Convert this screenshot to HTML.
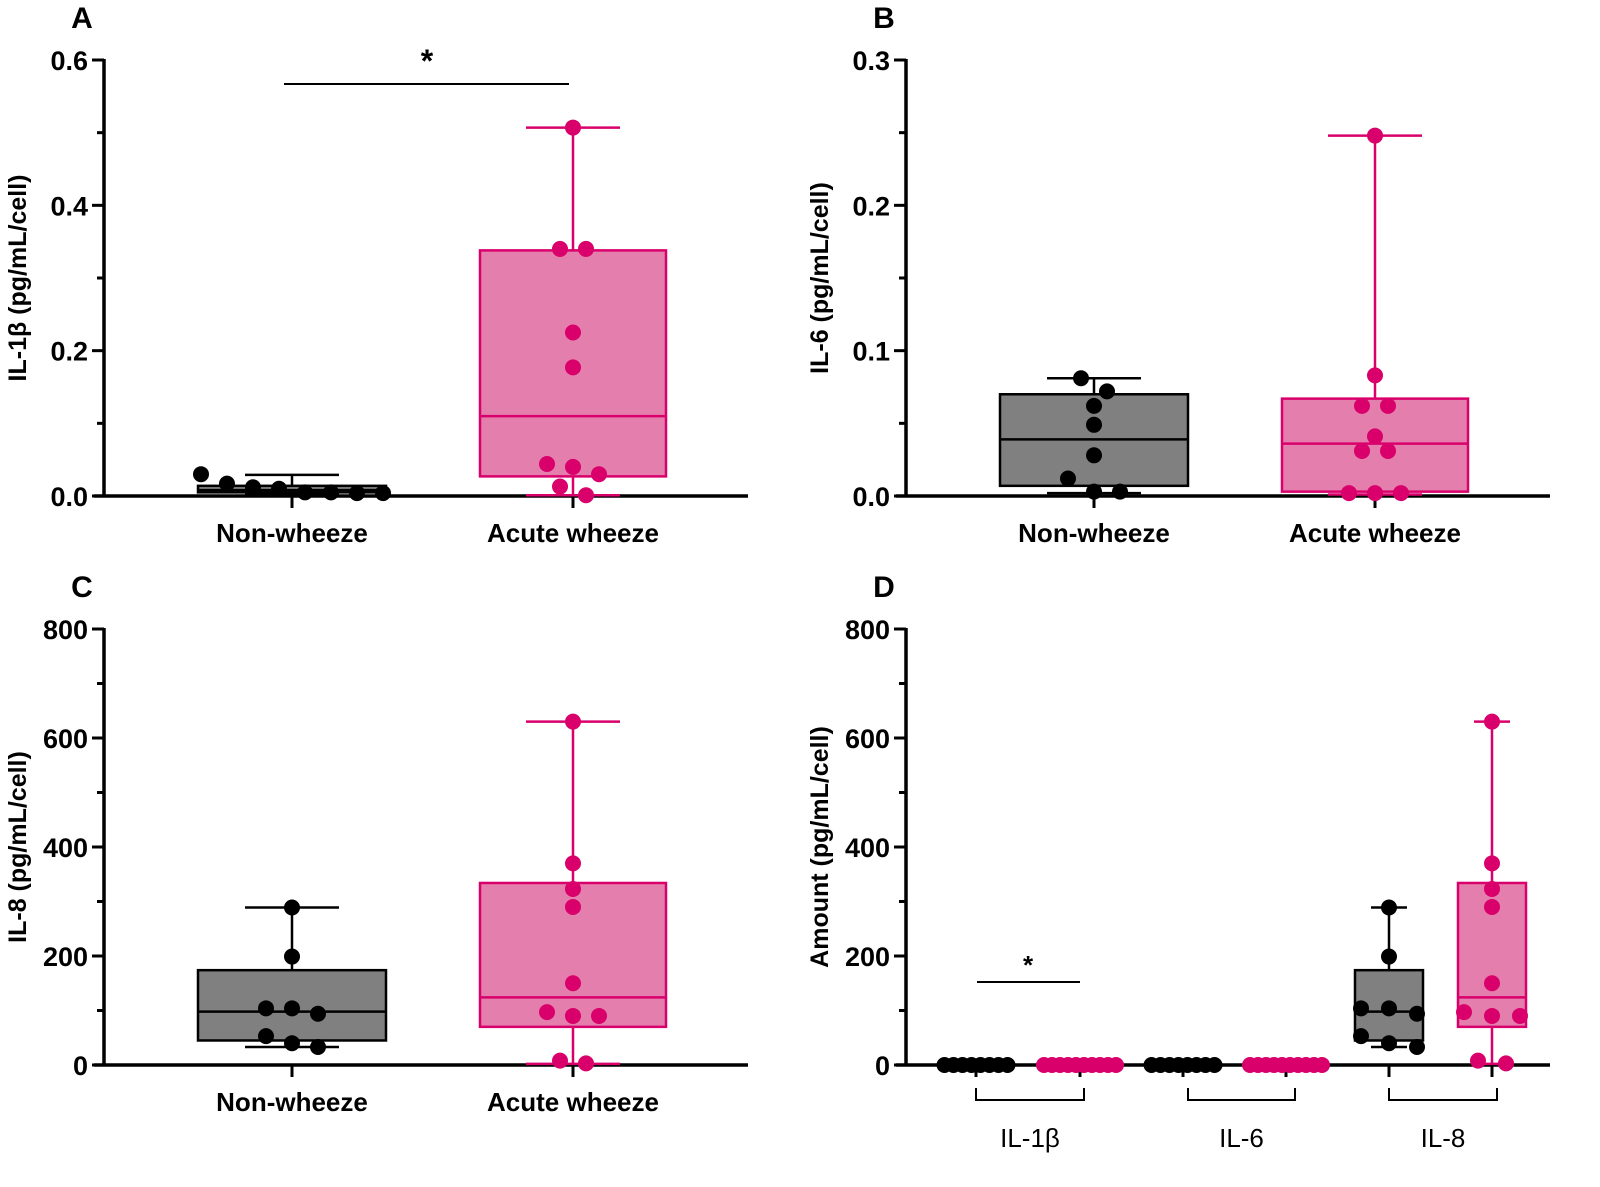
<!DOCTYPE html>
<html><head><meta charset="utf-8"><style>
body{margin:0;background:#fff}
svg text{font-family:"Liberation Sans",sans-serif}
</style></head><body>
<svg id="chart" width="1600" height="1182" viewBox="0 0 1600 1182"></svg>
<script>
// ---- data ----
const categoriesAB = ["Non-wheeze", "Acute wheeze"];
const il1bNon = [0.017, 0.005, 0.004, 0.012, 0.03, 0.005, 0.01, 0.004];
const il1bAcute = [0.507, 0.34, 0.34, 0.225, 0.177, 0.044, 0.04, 0.03, 0.013, 0.001];
const il6Non = [0.081, 0.072, 0.062, 0.049, 0.028, 0.012, 0.003, 0.003];
const il6Acute = [0.248, 0.083, 0.062, 0.062, 0.041, 0.031, 0.031, 0.002, 0.002, 0.002];
const il8Non = [289, 199, 104, 104, 94, 53, 40, 33];
const il8Acute = [630, 370, 323, 290, 150, 97, 90, 90, 8, 3];
const il1bNonBox = [0.003, 0.005, 0.008, 0.014, 0.029];
const il1bAcuteBox = [0.001, 0.027, 0.11, 0.338, 0.507];
const il6NonBox = [0.002, 0.007, 0.039, 0.070, 0.081];
const il6AcuteBox = [0.001, 0.003, 0.036, 0.067, 0.248];
const il8NonBox = [33, 45, 98, 174, 289];
const il8AcuteBox = [2, 70, 124, 334, 630];
const ticksA = [0, 0.2, 0.4, 0.6];
const ticksB = [0, 0.1, 0.2, 0.3];
const ticksC = [0, 200, 400, 600, 800];
const groupsD = ["IL-1β", "IL-6", "IL-8"];
const zerosNon = [0, 0, 0, 0, 0, 0, 0, 0];
const zerosAcute = [0, 0, 0, 0, 0, 0, 0, 0, 0, 0];

const NS = "http://www.w3.org/2000/svg";
const svg = document.getElementById("chart");
const BLACK = "#000", PINK = "#d9006c", PFILL = "#e47fad", GFILL = "#808080";
function el(tag, attrs, parent) {
  const e = document.createElementNS(NS, tag);
  for (const k in attrs) e.setAttribute(k, attrs[k]);
  (parent || svg).appendChild(e);
  return e;
}
function txt(s, x, y, opts, name, parent) {
  const t = el("text", Object.assign({x: x, y: y, "font-size": 26, "font-weight": "bold", fill: "#000", "text-anchor": "middle"}, opts || {}), parent);
  t.textContent = s;
  
  
  return t;
}
function panel(o) {
  const g = el("g", {});
  
  
  const y = v => o.y0 - v / o.max * (o.y0 - o.yTop);
  const ya = el("line", {x1: o.x0, y1: o.yTop - 1, x2: o.x0, y2: o.y0 + 1.5, stroke: BLACK, "stroke-width": 3.5}, g);
  
  
  const xa = el("line", {x1: o.x0 - 10, y1: o.y0, x2: o.xEnd, y2: o.y0, stroke: BLACK, "stroke-width": 3.5}, g);
  
  
  o.ticks.forEach((t, i) => {
    const tl = el("line", {x1: o.x0 - 12, y1: y(t), x2: o.x0, y2: y(t), stroke: BLACK, "stroke-width": 3}, g);
    
    
    txt(o.fmt(t), o.x0 - 16, y(t) + 10, {"text-anchor": "end", "font-size": 27}, 'y-tick-label', g);
    if (i < o.ticks.length - 1) {
      const m = (t + o.ticks[i + 1]) / 2;
      const ml = el("line", {x1: o.x0 - 7, y1: y(m), x2: o.x0, y2: y(m), stroke: BLACK, "stroke-width": 3}, g);
      
      
    }
  });
  const yc = (o.y0 + o.yTop) / 2;
  txt(o.title, 0, 0, {transform: `translate(${o.x0 - 78},${yc}) rotate(-90)`, "font-size": 25}, 'y-axis-title', g);
  txt(o.letter, o.x0 - 22, o.yTop - 32, {"font-size": 30}, 'panel-label', g);
  o.series.forEach(s => {
    const cx = s.cx, b = s.box, hw = s.w / 2, cap = s.cap / 2;
    const col = s.pink ? PINK : BLACK;
    const sg = el("g", {}, g);
    
    
    if (s.tick) {
      const tk = el("line", {x1: cx, y1: o.y0, x2: cx, y2: o.y0 + 12, stroke: BLACK, "stroke-width": 3}, sg);
      
      
    }
    if (b) {
      const wl = el("line", {x1: cx, y1: y(b[0]), x2: cx, y2: y(b[4]), stroke: col, "stroke-width": 2.5}, sg);
      
      
      [b[0], b[4]].forEach(v => {
        const c = el("line", {x1: cx - cap, y1: y(v), x2: cx + cap, y2: y(v), stroke: col, "stroke-width": 2.5}, sg);
        
        
      });
      const r = el("rect", {x: cx - hw, y: y(b[3]), width: s.w, height: Math.max(1, y(b[1]) - y(b[3])), fill: s.pink ? PFILL : GFILL, stroke: col, "stroke-width": 2.5}, sg);
      
      
      const md = el("line", {x1: cx - hw, y1: y(b[2]), x2: cx + hw, y2: y(b[2]), stroke: col, "stroke-width": 2.5}, sg);
      
      
    }
    const vals = s.vals.slice().sort((a, b2) => b2 - a);
    const clusters = [];
    vals.forEach(v => {
      const last = clusters[clusters.length - 1];
      if (last && Math.abs(y(last[0]) - y(v)) < s.clusterPx) last.push(v); else clusters.push([v]);
    });
    clusters.forEach(cl => {
      cl.forEach((v, i) => {
        const dx = (i - (cl.length - 1) / 2) * s.sp;
        const d = el("circle", {cx: cx + dx, cy: y(v), r: 8, fill: col}, sg);
        
        
      });
    });
    if (s.label) txt(s.label, cx, o.y0 + 46, {"font-size": 26}, 'x-category-label', sg);
  });
  return y;
}
panel({name: "panel-a-il1b", letter: "A", x0: 104, xEnd: 748, y0: 496, yTop: 60, max: 0.6, ticks: ticksA, fmt: v => v.toFixed(1), title: "IL-1β (pg/mL/cell)",
  series: [
    {name: "non-wheeze-group", cx: 292, box: il1bNonBox, vals: il1bNon, w: 188, cap: 94, sp: 26, clusterPx: 22, tick: true, label: categoriesAB[0]},
    {name: "acute-wheeze-group", cx: 573, box: il1bAcuteBox, vals: il1bAcute, w: 186, cap: 94, sp: 26, clusterPx: 14, pink: true, tick: true, label: categoriesAB[1]}]});
let sl = el("line", {x1: 284, y1: 84, x2: 569, y2: 84, stroke: BLACK, "stroke-width": 2});
 
txt("*", 427, 72, {"font-size": 32}, 'significance-star');
panel({name: "panel-b-il6", letter: "B", x0: 906, xEnd: 1550, y0: 496, yTop: 60, max: 0.3, ticks: ticksB, fmt: v => v.toFixed(1), title: "IL-6 (pg/mL/cell)",
  series: [
    {name: "non-wheeze-group", cx: 1094, box: il6NonBox, vals: il6Non, w: 188, cap: 94, sp: 26, clusterPx: 14, tick: true, label: categoriesAB[0]},
    {name: "acute-wheeze-group", cx: 1375, box: il6AcuteBox, vals: il6Acute, w: 186, cap: 94, sp: 26, clusterPx: 14, pink: true, tick: true, label: categoriesAB[1]}]});
panel({name: "panel-c-il8", letter: "C", x0: 104, xEnd: 748, y0: 1065, yTop: 629, max: 800, ticks: ticksC, fmt: v => String(v), title: "IL-8 (pg/mL/cell)",
  series: [
    {name: "non-wheeze-group", cx: 292, box: il8NonBox, vals: il8Non, w: 188, cap: 94, sp: 26, clusterPx: 14, tick: true, label: categoriesAB[0]},
    {name: "acute-wheeze-group", cx: 573, box: il8AcuteBox, vals: il8Acute, w: 186, cap: 94, sp: 26, clusterPx: 14, pink: true, tick: true, label: categoriesAB[1]}]});
panel({name: "panel-d-amount", letter: "D", x0: 906, xEnd: 1550, y0: 1065, yTop: 629, max: 800, ticks: ticksC, fmt: v => String(v), title: "Amount (pg/mL/cell)",
  series: [
    {name: "il1b-non-wheeze", cx: 976, vals: zerosNon, w: 0, cap: 0, sp: 9, clusterPx: 14, tick: true},
    {name: "il1b-acute-wheeze", cx: 1080, vals: zerosAcute, w: 0, cap: 0, sp: 8, clusterPx: 14, pink: true, tick: true},
    {name: "il6-non-wheeze", cx: 1183, vals: zerosNon, w: 0, cap: 0, sp: 9, clusterPx: 14, tick: true},
    {name: "il6-acute-wheeze", cx: 1286, vals: zerosAcute, w: 0, cap: 0, sp: 8, clusterPx: 14, pink: true, tick: true},
    {name: "il8-non-wheeze", cx: 1389, box: il8NonBox, vals: il8Non, w: 68, cap: 36, sp: 28, clusterPx: 14, tick: true},
    {name: "il8-acute-wheeze", cx: 1492, box: il8AcuteBox, vals: il8Acute, w: 68, cap: 36, sp: 28, clusterPx: 14, pink: true, tick: true}]});
sl = el("line", {x1: 977, y1: 982, x2: 1080, y2: 982, stroke: BLACK, "stroke-width": 2});
 
txt("*", 1028, 974, {"font-size": 26}, 'significance-star');
const bx = [[976, 1084], [1188, 1295], [1389, 1497]];
groupsD.forEach((gname, i) => {
  const [a, b] = bx[i];
  const p = el("path", {d: `M${a},1088 V1100 H${b} V1088`, fill: "none", stroke: BLACK, "stroke-width": 2});
  
  
  txt(gname, (a + b) / 2, 1147, {"font-size": 26, "font-weight": "normal"}, 'group-label');
});
</script>
</body></html>
